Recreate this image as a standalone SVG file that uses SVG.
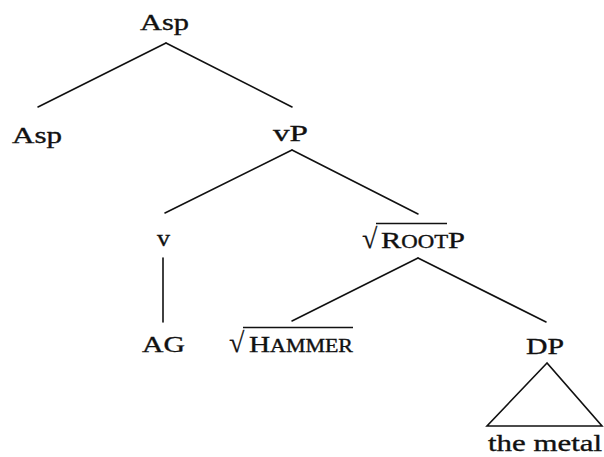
<svg xmlns="http://www.w3.org/2000/svg" width="604" height="457" viewBox="0 0 604 457">
<style>
text{font-family:"Liberation Serif","Times New Roman",serif;font-size:24px;fill:#111;stroke:#111;stroke-width:0.35;}
.sc{font-size:18px;}
.rad{font-size:28px;stroke-width:0.2;}
.e{stroke:#111;stroke-width:1.6;fill:none;stroke-linecap:round;}
.ov{stroke:#111;stroke-width:1.4;}
</style>
<rect width="604" height="457" fill="#fff"/>
<g id="edges">
<line class="e" x1="166" y1="43" x2="38" y2="107"/>
<line class="e" x1="166" y1="43" x2="292" y2="107"/>
<line class="e" x1="292" y1="150" x2="165" y2="213"/>
<line class="e" x1="292" y1="150" x2="418" y2="214"/>
<line class="e" x1="163" y1="258" x2="163" y2="322"/>
<line class="e" x1="418" y1="258" x2="292" y2="321"/>
<line class="e" x1="418" y1="258" x2="546" y2="322"/>
<polygon class="e" points="547,363 487,426 602,426"/>
</g>
<g id="asp-top"><text x="140" y="30" textLength="49" lengthAdjust="spacingAndGlyphs">Asp</text></g>
<g id="asp-left"><text x="12" y="143" textLength="50" lengthAdjust="spacingAndGlyphs">Asp</text></g>
<g id="vP"><text x="273" y="141" textLength="35" lengthAdjust="spacingAndGlyphs">vP</text></g>
<g id="v"><text x="157" y="246" textLength="13" lengthAdjust="spacingAndGlyphs">v</text></g>
<g id="AG"><text x="142" y="352" textLength="43" lengthAdjust="spacingAndGlyphs">AG</text></g>
<g id="rootP">
<text class="rad" x="362" y="248">√</text>
<line class="ov" x1="376" y1="223.5" x2="447" y2="223.5"/>
<text x="381" y="248" textLength="84" lengthAdjust="spacingAndGlyphs">R<tspan class="sc">OOT</tspan>P</text>
</g>
<g id="hammer">
<text class="rad" x="229" y="352">√</text>
<line class="ov" x1="243" y1="327.5" x2="353" y2="327.5"/>
<text x="249" y="352" textLength="104" lengthAdjust="spacingAndGlyphs">H<tspan class="sc">AMMER</tspan></text>
</g>
<g id="DP"><text x="526" y="354" textLength="38" lengthAdjust="spacingAndGlyphs">DP</text></g>
<g id="the-metal"><text x="488" y="451" textLength="114" lengthAdjust="spacingAndGlyphs">the metal</text></g>
</svg>
